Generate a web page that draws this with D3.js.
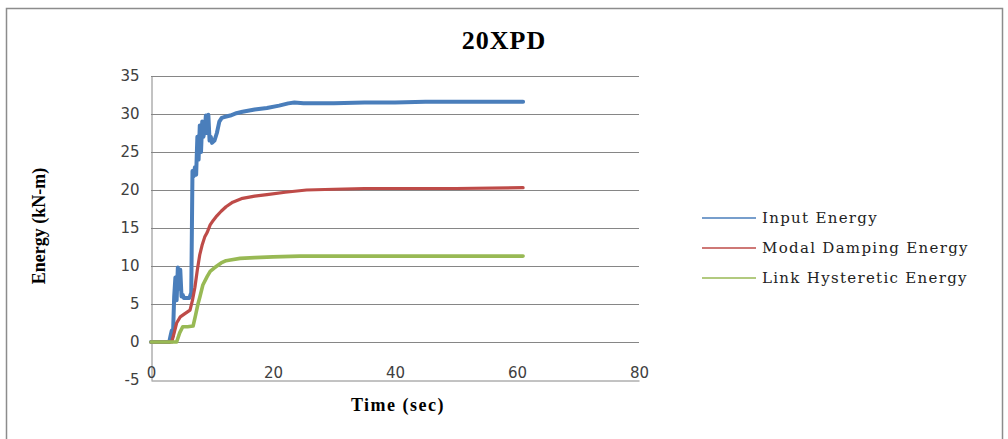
<!DOCTYPE html>
<html><head><meta charset="utf-8">
<script src="https://cdn.jsdelivr.net/npm/d3@7/dist/d3.min.js"></script>
<style>body{margin:0;background:#fff}svg{display:block}
.serif{font-family:"Liberation Serif","Times New Roman",serif}
.lserif{font-family:"DejaVu Serif",serif}</style>
</head><body>
<svg id="c" width="1008" height="439"></svg>
<script>
const title = "20XPD";
const xTicks = [0, 20, 40, 60, 80];
const yTicks = [-5, 0, 5, 10, 15, 20, 25, 30, 35];
const seriesNames = ["Input Energy", "Modal Damping Energy", "Link Hysteretic Energy"];
const seriesColors = ["#4a7ebb", "#be4b48", "#98b954"];

const inputT = [0,3.0,3.2,3.4,3.6,3.8,4.0,4.2,4.4,4.6,4.8,5.0,5.2,5.4,6.3,6.6,6.8,7.0,7.2,7.4,7.6,7.8,8.0,8.2,8.4,8.6,8.8,9.0,9.2,9.4,9.6,9.8,10.0,10.4,10.8,11.2,11.6,12,13,14,15,17,19,21,22.5,23.5,25,27,30,35,40,45,50,55,61];
const inputV = [0,0,0.8,1.5,0.8,6,8.5,5.5,9.8,7,9.5,6,6.2,5.8,5.8,6.5,22.5,21.8,23,22,27,24,28.5,25,29,27,28,29.8,27.5,29.9,26.5,27,26.2,26.5,27.5,29,29.5,29.6,29.8,30.1,30.3,30.6,30.8,31.1,31.4,31.5,31.4,31.4,31.4,31.5,31.5,31.6,31.6,31.6,31.6];

const dampT = [0,3.4,3.8,4.2,4.8,5.5,6.4,6.8,7.2,7.6,8.0,8.4,8.8,9.2,9.7,10.2,10.8,11.5,12.3,13.4,15,17,19,22,25.5,30,35,40,50,61];
const dampV = [0,0,1.2,2.5,3.3,3.7,4.2,5.5,7.2,9.5,11.5,12.8,13.8,14.4,15.4,16.0,16.6,17.2,17.8,18.4,18.9,19.2,19.4,19.7,20.0,20.1,20.2,20.2,20.2,20.3];

const linkT = [0,4.2,4.7,5.2,6.0,6.9,7.3,7.7,8.0,8.5,9.2,9.7,10.3,10.8,11.5,12.3,13,14.6,17,20,24.4,30,40,50,61];
const linkV = [0,0,1.2,2.0,2.0,2.1,3.5,5.0,5.9,7.5,8.6,9.3,9.7,10.0,10.4,10.7,10.8,11.0,11.1,11.2,11.3,11.3,11.3,11.3,11.3];

const svg = d3.select("#c");
svg.append("rect").attr("x",6.5).attr("y",8.5).attr("width",996).attr("height",440)
  .attr("fill","none").attr("stroke","#8c8c8c").attr("stroke-width",1.5);

const x = d3.scaleLinear().domain([0,80]).range([151,639]);
const y = d3.scaleLinear().domain([-5,35]).range([380,76]);

svg.append("g").selectAll("line").data(yTicks.filter(d=>d>-5)).join("line")
  .attr("x1",x(0)).attr("x2",x(80)).attr("y1",d=>y(d)+0.5).attr("y2",d=>y(d)+0.5)
  .attr("stroke","#868686").attr("stroke-width",1);

const ya = svg.append("g").attr("transform",`translate(${x(0)+0.5},0)`)
  .call(d3.axisLeft(y).tickValues(yTicks).tickSize(0).tickPadding(12).tickFormat(d=>String(d)));
ya.select(".domain").attr("stroke","#868686");
ya.selectAll("text").attr("font-family","DejaVu Sans").attr("font-size",15).attr("fill","#404040");

const xa = svg.append("g").attr("transform",`translate(0,${y(-5)+0.5})`)
  .call(d3.axisBottom(x).tickValues(xTicks).tickSize(0).tickPadding(0).tickFormat(d=>String(d)));
xa.select(".domain").attr("stroke","#868686");
xa.selectAll("text").attr("font-family","DejaVu Sans").attr("font-size",15).attr("fill","#404040")
  .attr("dy","-0.2em");

const line = d3.line().x(d=>x(d[0])).y(d=>y(d[1]));
const data = [d3.zip(inputT, inputV), d3.zip(dampT, dampV), d3.zip(linkT, linkV)];
const widths = [4, 3.2, 3.6];
data.forEach((s,i)=>{
  svg.append("path").datum(s).attr("d",line).attr("fill","none")
    .attr("stroke",seriesColors[i]).attr("stroke-width",widths[i])
    .attr("stroke-linejoin","round").attr("stroke-linecap","round");
});

svg.append("text").attr("class","serif").attr("x",504).attr("y",49).attr("text-anchor","middle")
  .attr("font-weight","bold").attr("font-size",26).attr("letter-spacing",1).text(title);

svg.append("text").attr("class","serif").attr("transform","translate(45,226) rotate(-90)").attr("text-anchor","middle")
  .attr("font-weight","bold").attr("font-size",18).text("Energy (kN-m)");
svg.append("text").attr("class","serif").attr("x",398).attr("y",411).attr("text-anchor","middle")
  .attr("font-weight","bold").attr("font-size",18).attr("letter-spacing",1.5).text("Time (sec)");

const ly = [218, 248, 278];
const lg = svg.append("g");
seriesNames.forEach((n,i)=>{
  lg.append("line").attr("x1",702).attr("x2",756).attr("y1",ly[i]).attr("y2",ly[i])
    .attr("stroke",seriesColors[i]).attr("stroke-width",1.5);
  lg.append("text").attr("class","lserif").attr("x",762).attr("y",ly[i]).attr("dy","0.35em")
    .attr("font-size",15).attr("letter-spacing",1.3).attr("fill","#222").text(n);
});
</script>
</body></html>
